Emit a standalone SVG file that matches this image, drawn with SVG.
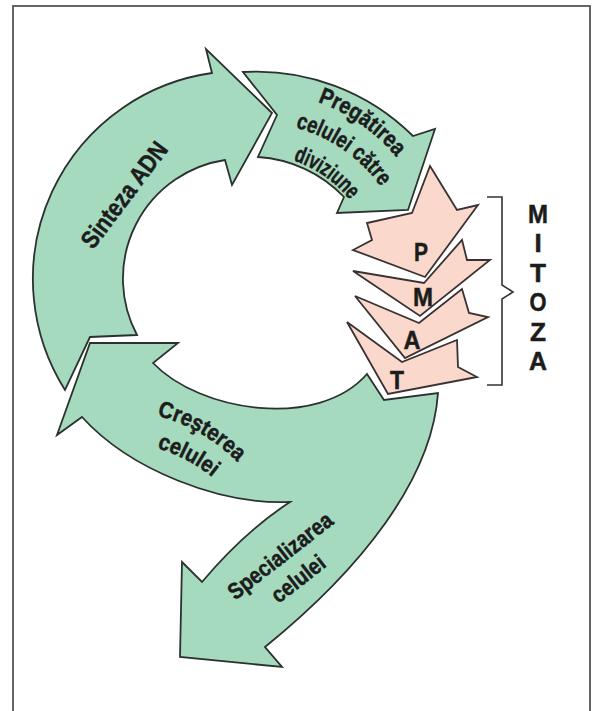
<svg xmlns="http://www.w3.org/2000/svg" xmlns:xlink="http://www.w3.org/1999/xlink" width="595" height="711" viewBox="0 0 595 711">
<style>
.g{fill:#a6dabf;stroke:#2b322e;stroke-width:1.8;stroke-linejoin:miter}
.p{fill:#fad8cb;stroke:#3a3232;stroke-width:1.8;stroke-linejoin:miter}
.t{font-family:'Liberation Sans',Arial,sans-serif;font-weight:bold;fill:#1c1c1c;stroke:#1c1c1c;stroke-width:0.5}
.lbl{font-size:23px}
.big{font-size:26px;text-anchor:middle}
</style>
<defs>
<path id="arc1" d="M192.1,102 A184,184 0 0 1 439,275"/>
<path id="arc2" d="M202.7,131.2 A155,155 0 0 1 410,275"/>
<path id="arc3" d="M213.9,161.4 A121,121 0 0 1 376,275"/>
<path id="cr1" d="M157,416 Q204,427 241,466"/>
<path id="cr2" d="M157,448 Q190,458 217,481"/>
</defs>
<rect x="13" y="6" width="577" height="720" fill="#fff" stroke="#555" stroke-width="1.8"/>

<g id="node-crestere-specializare">
<path class="g" d="M90,343 L178,343 L153,363 C200,412 318,430 367,374 L384,400 L438,393 C432,480 360,570 265,647 L282,667 L180,657 L182,562 L202,582 Q244,532 290,502 C220,505 130,470 82,417 L57,435 Z"/>
<text class="t lbl"><textPath xlink:href="#cr1" href="#cr1" textLength="94" lengthAdjust="spacingAndGlyphs">Creşterea</textPath></text>
<text class="t lbl"><textPath xlink:href="#cr2" href="#cr2" textLength="63" lengthAdjust="spacingAndGlyphs">celulei</textPath></text>
<text class="t lbl" text-anchor="middle" transform="translate(285,562) rotate(-38)" textLength="126" lengthAdjust="spacingAndGlyphs">Specializarea</text>
<text class="t lbl" text-anchor="middle" transform="translate(303,585) rotate(-38)" textLength="62" lengthAdjust="spacingAndGlyphs">celulei</text>
</g>

<g id="node-t">
<path class="p" d="M347,322 L402,362 L457,340 L458,367 L477,377 L388,394 Z"/>
<text class="t big" x="397" y="389" textLength="14" lengthAdjust="spacingAndGlyphs">T</text>
</g>
<g id="node-a">
<path class="p" d="M355,296 L419,323 L462,289 L469,313 L488,317 L405,358 Z"/>
<text class="t big" x="412" y="349" textLength="17" lengthAdjust="spacingAndGlyphs">A</text>
</g>
<g id="node-m">
<path class="p" d="M353,271 L424,283 L462,240 L467,260 L490,260 L420,316 Z"/>
<text class="t big" x="423" y="306" textLength="20" lengthAdjust="spacingAndGlyphs">M</text>
</g>
<g id="node-p">
<path class="p" d="M430,166 L457,210 L478,205 L425,277 L353,250 L372,240 L367,223 L412,213 Z"/>
<text class="t big" x="421" y="261" textLength="14" lengthAdjust="spacingAndGlyphs">P</text>
</g>

<g id="node-pregatirea">
<path class="g" d="M243,72 A222,222 0 0 1 413,136 L435,129 L408,210 L337,213 L344,197 A130,130 0 0 0 258,157 L277,115 Z"/>
<text class="t lbl" font-size="22" text-anchor="middle"><textPath xlink:href="#arc1" href="#arc1" startOffset="50%" textLength="97" lengthAdjust="spacingAndGlyphs">Pregătirea</textPath></text>
<text class="t lbl" font-size="22" text-anchor="middle"><textPath xlink:href="#arc2" href="#arc2" startOffset="50%" textLength="106" lengthAdjust="spacingAndGlyphs">celulei către</textPath></text>
<text class="t lbl" font-size="22" text-anchor="middle"><textPath xlink:href="#arc3" href="#arc3" startOffset="50%" textLength="70" lengthAdjust="spacingAndGlyphs">diviziune</textPath></text>
</g>

<g id="node-sinteza">
<path class="g" d="M137,335 L90,337 L65,390 A208,208 0 0 1 212,73 L206,49 L272,113 L232,185 L225,160 A120,120 0 0 0 137,335 Z"/>
<text class="t" font-size="25" text-anchor="middle" transform="translate(131,200) rotate(-53)" textLength="126" lengthAdjust="spacingAndGlyphs">Sinteza ADN</text>
</g>

<g id="connectors">
<path d="M487,197 H502 V285 L513,292 L502,299 V385 H487" fill="none" stroke="#333" stroke-width="1.6"/>
</g>

<g id="node-mitoza">
<text class="t big" font-size="27" x="538" y="223" textLength="20" lengthAdjust="spacingAndGlyphs">M</text>
<text class="t big" font-size="27" x="538" y="252">I</text>
<text class="t big" font-size="27" x="538" y="282" textLength="16" lengthAdjust="spacingAndGlyphs">T</text>
<text class="t big" font-size="27" x="538" y="311" textLength="17" lengthAdjust="spacingAndGlyphs">O</text>
<text class="t big" font-size="27" x="538" y="341" textLength="16" lengthAdjust="spacingAndGlyphs">Z</text>
<text class="t big" font-size="27" x="538" y="370" textLength="18" lengthAdjust="spacingAndGlyphs">A</text>
</g>
</svg>
